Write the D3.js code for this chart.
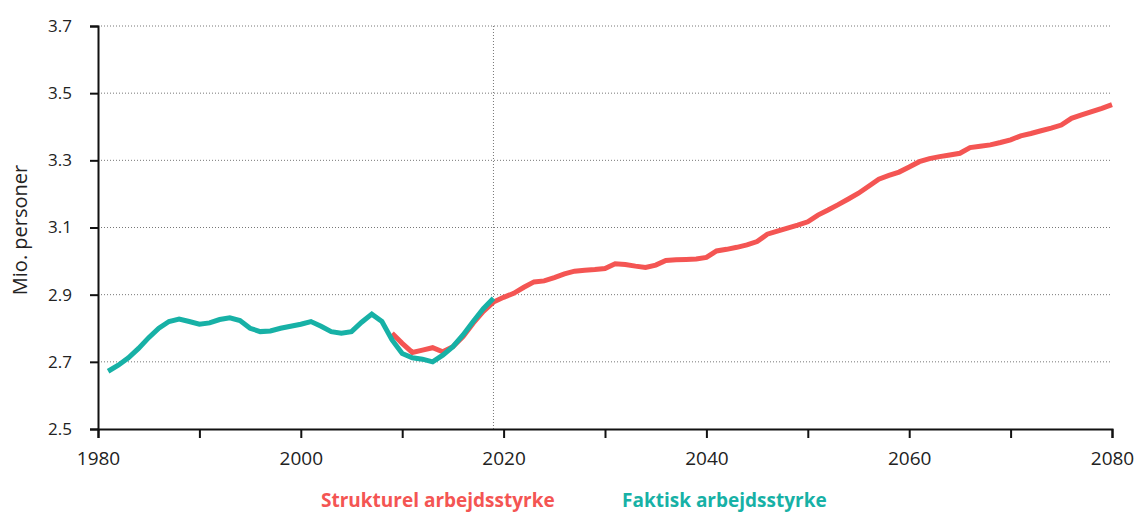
<!DOCTYPE html>
<html>
<head>
<meta charset="utf-8">
<script src="https://cdn.jsdelivr.net/npm/d3@7"></script>
<style>
  body { margin: 0; background: #fff; }
  text { font-family: 'Open Sans', sans-serif; }
</style>
</head>
<body>
<div id="app"></div>
<script>
'use strict'

// Faktisk arbejdsstyrke, 1981-2019
const actualYears = d3.range(1981, 2020)
const actualValues = [
	2.672, 2.690, 2.712, 2.740, 2.772, 2.800, 2.820, 2.827, 2.820, 2.812,
	2.816, 2.826, 2.831, 2.823, 2.800, 2.790, 2.792, 2.800, 2.806, 2.812,
	2.820, 2.806, 2.790, 2.785, 2.790, 2.818, 2.842, 2.820, 2.765, 2.725,
	2.712, 2.708, 2.700, 2.720, 2.745, 2.780, 2.820, 2.858, 2.889
]

// Strukturel arbejdsstyrke, 2009-2080
const structYears = d3.range(2009, 2081)
const structValues = [
	2.785, 2.755, 2.728, 2.735, 2.742, 2.730, 2.745, 2.775, 2.815, 2.850,
	2.878, 2.892, 2.904, 2.922, 2.938, 2.941, 2.951, 2.962, 2.970, 2.973,
	2.975, 2.978, 2.992, 2.990, 2.985, 2.981, 2.988, 3.002, 3.004, 3.005,
	3.006, 3.011, 3.030, 3.035, 3.041, 3.048, 3.058, 3.080, 3.089, 3.098,
	3.107, 3.117, 3.137, 3.152, 3.168, 3.185, 3.202, 3.223, 3.244, 3.255,
	3.265, 3.280, 3.296, 3.305, 3.311, 3.316, 3.321, 3.338, 3.342, 3.346,
	3.353, 3.361, 3.373, 3.380, 3.388, 3.396, 3.405, 3.425, 3.435, 3.445,
	3.455, 3.466
]

const xTicks = [1980, 1990, 2000, 2010, 2020, 2030, 2040, 2050, 2060, 2070, 2080]
const xLabels = [1980, 2000, 2020, 2040, 2060, 2080]
const yTicks = [2.5, 2.7, 2.9, 3.1, 3.3, 3.5, 3.7]
const splitYear = 2019
const legendLabels = ['Strukturel arbejdsstyrke', 'Faktisk arbejdsstyrke']

const red = '#f45553'
const teal = '#17b1a6'

const margin = { top: 26, right: 26, bottom: 85, left: 98 }
const W = 1138, H = 514
const width = W - margin.left - margin.right
const height = H - margin.top - margin.bottom

const svg = d3.select('#app').append('svg')
	.attr('width', W)
	.attr('height', H)

const g = svg.append('g')
	.attr('transform', `translate(${margin.left}, ${margin.top})`)

const x = d3.scaleLinear().domain([1980, 2080]).range([0, width])
const y = d3.scaleLinear().domain([2.5, 3.7]).range([height, 0])

// gridlines
g.selectAll('.grid')
	.data(yTicks.slice(1))
	.enter().append('line')
	.attr('x1', 0)
	.attr('x2', width)
	.attr('y1', d => y(d))
	.attr('y2', d => y(d))
	.attr('stroke', '#777')
	.attr('stroke-width', 1)
	.attr('stroke-dasharray', '1,2')

// split marker
g.append('line')
	.attr('x1', x(splitYear))
	.attr('x2', x(splitYear))
	.attr('y1', 0)
	.attr('y2', height)
	.attr('stroke', '#777')
	.attr('stroke-width', 1)
	.attr('stroke-dasharray', '1,2')

// axes
const xAxis = g.append('g')
	.attr('transform', `translate(0, ${height})`)
	.call(d3.axisBottom(x).tickValues(xTicks).tickSize(9).tickPadding(14)
		.tickFormat(d => xLabels.includes(d) ? d : ''))
xAxis.select('.domain').attr('stroke', '#111').attr('stroke-width', 2)
xAxis.selectAll('.tick line').attr('stroke', '#111').attr('stroke-width', 2)
xAxis.selectAll('text').style('font-size', '19px').attr('fill', '#222')

const yAxis = g.append('g')
	.call(d3.axisLeft(y).tickValues(yTicks).tickSize(8).tickPadding(18)
		.tickFormat(d3.format('.1f')))
yAxis.select('.domain').attr('stroke', '#111').attr('stroke-width', 2)
yAxis.selectAll('.tick line').attr('stroke', '#111').attr('stroke-width', 2)
yAxis.selectAll('text').style('font-size', '17px').attr('fill', '#222')

g.append('text')
	.attr('transform', `translate(${20 - margin.left}, ${230 - margin.top}) rotate(-90)`)
	.attr('text-anchor', 'middle')
	.attr('dy', '0.35em')
	.style('font-size', '20px')
	.attr('fill', '#222')
	.text('Mio. personer')

// lines
const line = d3.line()
	.x(d => x(d[0]))
	.y(d => y(d[1]))

g.append('path')
	.datum(d3.zip(structYears, structValues))
	.attr('d', line)
	.attr('fill', 'none')
	.attr('stroke', red)
	.attr('stroke-width', 5)

g.append('path')
	.datum(d3.zip(actualYears, actualValues))
	.attr('d', line)
	.attr('fill', 'none')
	.attr('stroke', teal)
	.attr('stroke-width', 5)

// legend
const legend = svg.append('g')
	.attr('transform', 'translate(0, 507)')
	.style('font-size', '19px')
	.style('font-weight', 'bold')

legend.append('text')
	.attr('x', 321)
	.attr('fill', red)
	.text(legendLabels[0])

legend.append('text')
	.attr('x', 622)
	.attr('fill', teal)
	.text(legendLabels[1])
</script>
</body>
</html>
